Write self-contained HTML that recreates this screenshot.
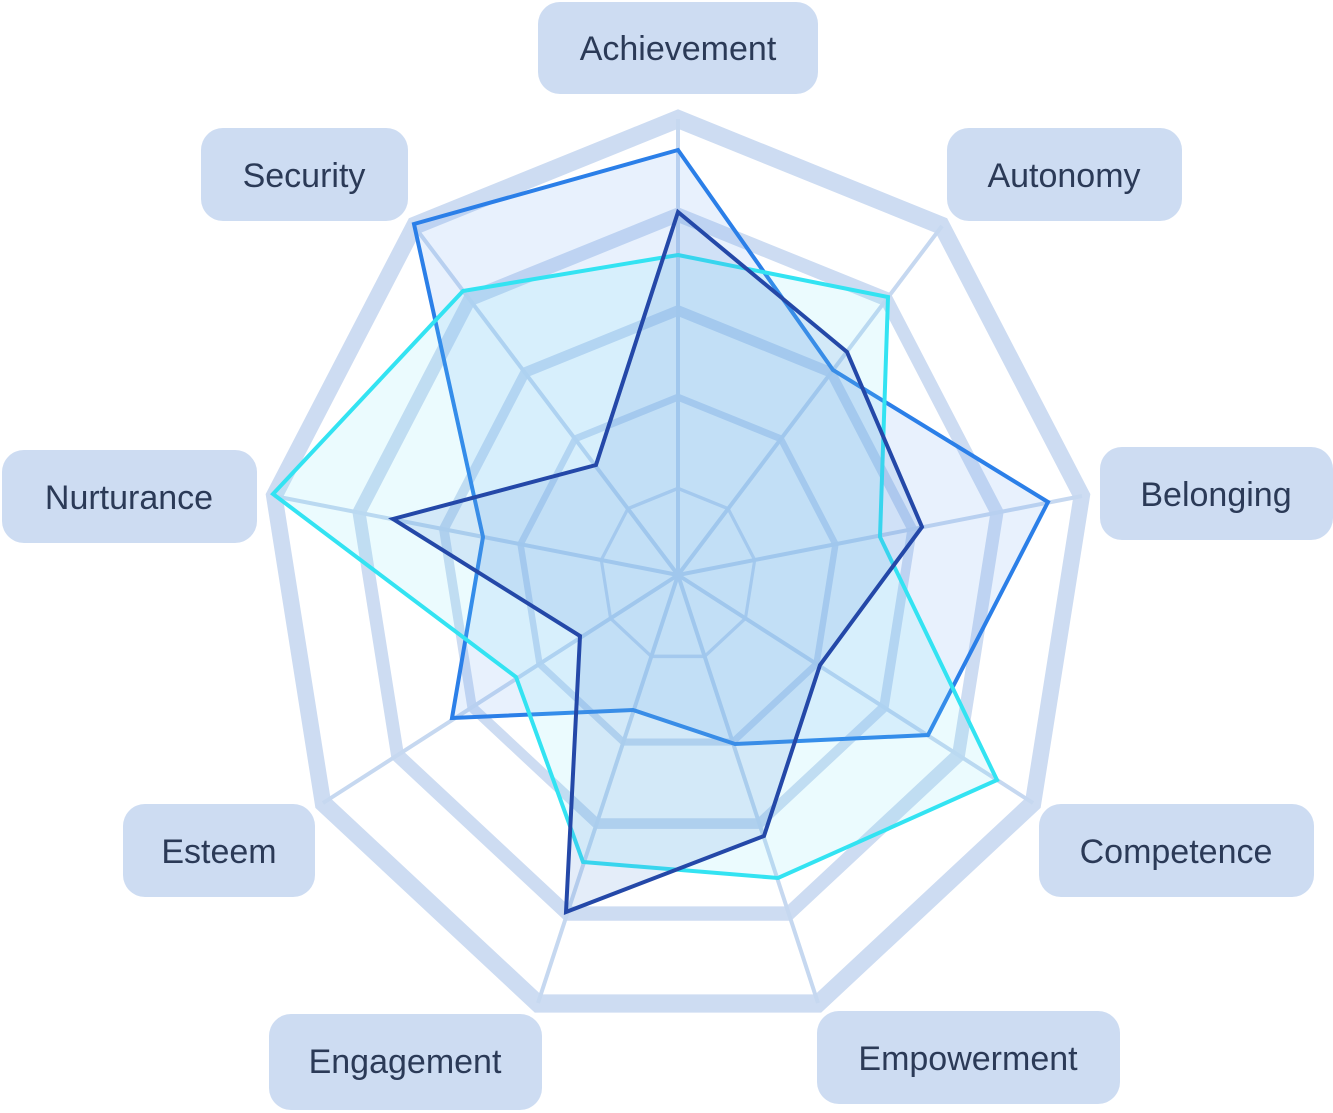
<!DOCTYPE html>
<html><head><meta charset="utf-8"><style>
html,body{margin:0;padding:0;background:#fff;}
svg{display:block;}
text{font-family:"Liberation Sans",sans-serif;font-size:34px;fill:#2b3a57;font-weight:500;}
</style></head><body>
<svg width="1333" height="1113" viewBox="0 0 1333 1113" xmlns="http://www.w3.org/2000/svg">
<defs>
<polygon id="ring" points="0,-100 64.28,-76.6 98.48,-17.36 86.6,50 34.2,93.97 -34.2,93.97 -86.6,50 -98.48,-17.36 -64.28,-76.6"/>
</defs>
<g transform="translate(678,575) scale(4.1,4.56)" fill="none" stroke="#cddcf2" stroke-width="4">
  <use href="#ring" vector-effect="non-scaling-stroke" style="vector-effect:non-scaling-stroke"/>
  <g transform="scale(0.79)"><use href="#ring" style="vector-effect:non-scaling-stroke" vector-effect="non-scaling-stroke"/></g>
  <g transform="scale(0.58)"><use href="#ring" style="vector-effect:non-scaling-stroke" vector-effect="non-scaling-stroke"/></g>
  <g transform="scale(0.39)"><use href="#ring" style="vector-effect:non-scaling-stroke" vector-effect="non-scaling-stroke"/></g>
  <g transform="scale(0.19)"><use href="#ring" style="vector-effect:non-scaling-stroke" vector-effect="non-scaling-stroke"/></g>
</g>
<g stroke="#c6d8f0" stroke-width="4">
  <line x1="678" y1="575" x2="678" y2="119"/>
  <line x1="678" y1="575" x2="942" y2="226"/>
  <line x1="678" y1="575" x2="1082" y2="496"/>
  <line x1="678" y1="575" x2="1033" y2="803"/>
  <line x1="678" y1="575" x2="818" y2="1003"/>
  <line x1="678" y1="575" x2="538" y2="1003"/>
  <line x1="678" y1="575" x2="323" y2="803"/>
  <line x1="678" y1="575" x2="274" y2="496"/>
  <line x1="678" y1="575" x2="414" y2="226"/>
</g>
<!-- series A -->
<polygon points="678,150 833,370 1048,502 928,735 735,744 633,710 452,718 483,537 414,224" fill="rgba(110,165,240,0.16)" stroke="#2b7fe8" stroke-width="4" stroke-linejoin="miter"/>
<!-- series B -->
<polygon points="678,255 888,297 880,537 997,780 778,878 583,862 516,677 273,494 463,291" fill="rgba(110,225,250,0.14)" stroke="#33e3f2" stroke-width="4"/>
<!-- series C -->
<polygon points="678,212 847,352 922,527 820,665 764,836 566,912 580,636 393,519 596,465" fill="rgba(90,140,215,0.16)" stroke="#2448a8" stroke-width="4"/>
<!-- labels -->
<g fill="#cddcf2">
  <rect x="538" y="2" width="280" height="92" rx="22"/>
  <rect x="947" y="128" width="235" height="93" rx="22"/>
  <rect x="1100" y="447" width="233" height="93" rx="22"/>
  <rect x="1039" y="804" width="275" height="93" rx="22"/>
  <rect x="817" y="1011" width="303" height="93" rx="22"/>
  <rect x="269" y="1014" width="273" height="96" rx="22"/>
  <rect x="123" y="804" width="192" height="93" rx="22"/>
  <rect x="2" y="450" width="255" height="93" rx="22"/>
  <rect x="201" y="128" width="207" height="93" rx="22"/>
</g>
<g text-anchor="middle">
  <text x="678" y="60">Achievement</text>
  <text x="1064" y="187">Autonomy</text>
  <text x="1216" y="506">Belonging</text>
  <text x="1176" y="863">Competence</text>
  <text x="968" y="1070">Empowerment</text>
  <text x="405" y="1073">Engagement</text>
  <text x="219" y="863">Esteem</text>
  <text x="129" y="509">Nurturance</text>
  <text x="304" y="187">Security</text>
</g>
</svg>
</body></html>
